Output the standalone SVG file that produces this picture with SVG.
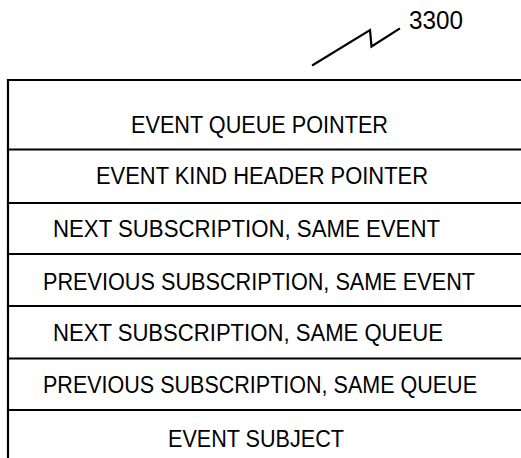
<svg xmlns="http://www.w3.org/2000/svg" width="521" height="458" viewBox="0 0 521 458">
<style>
  .ln { stroke: #000; stroke-width: 2.2; fill: none; stroke-linecap: square; }
  .lbl { font-family: "Liberation Sans", Arial, sans-serif; font-size: 23px; fill: #000; }
  .ref { font-family: "Liberation Sans", Arial, sans-serif; font-size: 25px; fill: #000; }
</style>
<rect width="521" height="458" fill="#fff"/>
<g id="frame">
  <line class="ln" x1="8" y1="80" x2="521" y2="80"/>
  <line class="ln" x1="8" y1="80" x2="8" y2="458"/>
</g>
<g id="connectors">
  <polyline class="ln" stroke-linejoin="miter" points="313,65 370,30 371.5,46.5 399,29"/>
</g>
<g id="ref-3300">
  <text class="ref" x="409" y="29" textLength="54" lengthAdjust="spacingAndGlyphs">3300</text>
</g>
<g id="row1">
  <text class="lbl" x="131" y="133" textLength="257" lengthAdjust="spacingAndGlyphs">EVENT QUEUE POINTER</text>
  <line class="ln" x1="8" y1="149.5" x2="521" y2="149.5"/>
</g>
<g id="row2">
  <text class="lbl" x="96" y="184" textLength="332" lengthAdjust="spacingAndGlyphs">EVENT KIND HEADER POINTER</text>
  <line class="ln" x1="8" y1="203" x2="521" y2="203"/>
</g>
<g id="row3">
  <text class="lbl" x="53" y="237" textLength="387" lengthAdjust="spacingAndGlyphs">NEXT SUBSCRIPTION, SAME EVENT</text>
  <line class="ln" x1="8" y1="254" x2="521" y2="254"/>
</g>
<g id="row4">
  <text class="lbl" x="43" y="290" textLength="432" lengthAdjust="spacingAndGlyphs">PREVIOUS SUBSCRIPTION, SAME EVENT</text>
  <line class="ln" x1="8" y1="306" x2="521" y2="306"/>
</g>
<g id="row5">
  <text class="lbl" x="53" y="341" textLength="390" lengthAdjust="spacingAndGlyphs">NEXT SUBSCRIPTION, SAME QUEUE</text>
  <line class="ln" x1="8" y1="358.5" x2="521" y2="358.5"/>
</g>
<g id="row6">
  <text class="lbl" x="43" y="393" textLength="434" lengthAdjust="spacingAndGlyphs">PREVIOUS SUBSCRIPTION, SAME QUEUE</text>
  <line class="ln" x1="8" y1="410" x2="521" y2="410"/>
</g>
<g id="row7">
  <text class="lbl" x="168" y="447" textLength="176" lengthAdjust="spacingAndGlyphs">EVENT SUBJECT</text>
</g>
</svg>
